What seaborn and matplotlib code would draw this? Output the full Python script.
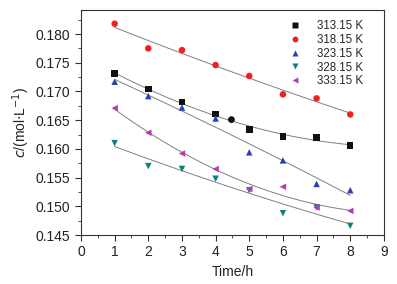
import matplotlib
matplotlib.use("Agg")
import matplotlib.pyplot as plt
import numpy as np
import pandas as pd
import seaborn as sns
from matplotlib.ticker import MultipleLocator

# data
hours = [1, 2, 3, 4, 5, 6, 7, 8]
temps = ["313.15 K", "318.15 K", "323.15 K", "328.15 K", "333.15 K"]
c_313 = [0.1731, 0.1704, 0.1682, 0.1661, 0.1634, 0.1622, 0.1620, 0.1606]
c_318 = [0.1818, 0.1775, 0.1772, 0.1746, 0.1727, 0.1695, 0.1688, 0.1660]
c_323 = [0.1717, 0.1692, 0.1672, 0.1653, 0.1594, 0.1580, 0.1539, 0.1528]
c_328 = [0.1610, 0.1570, 0.1565, 0.1548, 0.1528, 0.1488, 0.1498, 0.1466]
c_333 = [0.1671, 0.1628, 0.1592, 0.1565, 0.1530, 0.1534, 0.1498, 0.1492]
# stray black dot between 4 and 5 h
extra_x = [4.47]
extra_y = [0.1651]

series = [c_313, c_318, c_323, c_328, c_333]
colors = ["#111111", "#f02020", "#2a40b0", "#12807a", "#b23cb4"]
markers = ["s", "o", "^", "v", "<"]

df = pd.DataFrame({
    "t": hours * len(temps),
    "c": sum(series, []),
    "T": [tt for tt in temps for _ in hours],
})

sns.set_style("ticks")
plt.rcParams["font.family"] = ["Liberation Sans", "DejaVu Sans"]

fig = plt.figure(figsize=(3.97, 2.84), dpi=100)
ax = fig.add_axes([0.204, 0.1725, 0.763, 0.7925])

# fitted trend lines (quadratic fit of each series)
xs = np.linspace(1, 8, 100)
for vals in series:
    p = np.polyfit(hours, vals, 2)
    ax.plot(xs, np.polyval(p, xs), color="#808080", lw=0.7, zorder=1)

sns.scatterplot(data=df, x="t", y="c", hue="T", style="T",
                palette=dict(zip(temps, colors)),
                markers=dict(zip(temps, markers)),
                s=22, edgecolor="none", ax=ax, zorder=3)
ax.scatter(extra_x, extra_y, s=24, color="#111111", marker="o", edgecolor="none", zorder=3)

ax.set_xlim(0, 9)
ax.set_ylim(0.145, 0.1842)
ax.xaxis.set_major_locator(MultipleLocator(1))
ax.xaxis.set_minor_locator(MultipleLocator(0.5))
ax.yaxis.set_major_locator(MultipleLocator(0.005))
ax.yaxis.set_minor_locator(MultipleLocator(0.0025))
ax.yaxis.set_major_formatter(matplotlib.ticker.FormatStrFormatter("%.3f"))
ax.tick_params(which="major", length=4, width=0.8, labelsize=10, direction="out",
               color="#333333", labelcolor="#222222")
ax.tick_params(which="minor", length=2, width=0.6, direction="out", color="#333333")
for sp in ax.spines.values():
    sp.set_linewidth(0.8)
    sp.set_color("#333333")

ax.set_xlabel("Time/h", fontsize=10, color="#222222")
ax.set_ylabel("$c$/(mol$\\cdot$L$^{-1}$)", fontsize=10, labelpad=3, color="#222222")

leg = ax.legend(loc="upper right", frameon=False, fontsize=8.3, handletextpad=0.9,
                labelspacing=0.15, borderaxespad=0.5, markerscale=0.9,
                bbox_to_anchor=(0.965, 1.0))

fig.savefig("out.png", dpi=100)
